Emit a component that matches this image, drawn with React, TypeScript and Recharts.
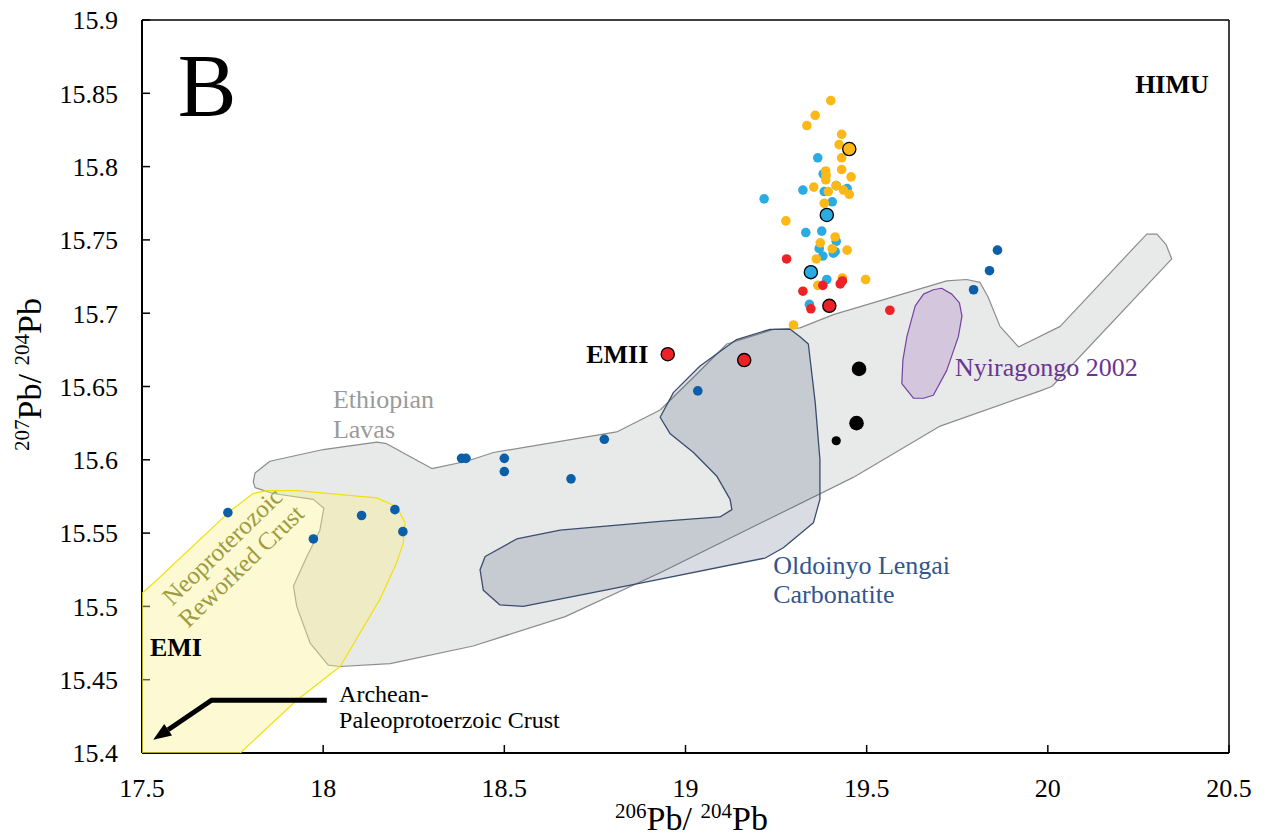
import { ReferenceLine, Scatter, ScatterChart, XAxis, YAxis } from 'recharts'

// ---- axes ----
const xTicks = [17.5, 18, 18.5, 19, 19.5, 20, 20.5]
const yTicks = [15.4, 15.45, 15.5, 15.55, 15.6, 15.65, 15.7, 15.75, 15.8, 15.85, 15.9]

type Pt = { x: number; y: number }
const pts = (rows: number[][]): Pt[] => rows.map(([x, y]) => ({ x, y }))

// ---- fields (outlines, 206Pb/204Pb vs 207Pb/204Pb) ----
const ethiopianLavas = pts([
  [17.807, 15.585], [17.812, 15.591], [17.853, 15.599], [18.0, 15.607], [18.148, 15.612],
  [18.175, 15.611], [18.3, 15.594], [18.396, 15.599], [18.47, 15.605], [18.81, 15.619],
  [18.93, 15.634], [19.021, 15.656], [19.114, 15.679], [19.243, 15.689], [19.316, 15.69],
  [19.408, 15.699], [19.721, 15.722], [19.776, 15.723], [19.813, 15.721], [19.835, 15.711],
  [19.868, 15.691], [19.919, 15.677], [20.034, 15.691], [20.273, 15.754], [20.301, 15.754],
  [20.326, 15.747], [20.342, 15.737], [20.011, 15.65], [19.979, 15.647], [19.703, 15.623],
  [19.463, 15.588], [18.93, 15.523], [18.668, 15.493], [18.414, 15.473], [18.185, 15.461],
  [18.047, 15.459], [18.014, 15.46], [17.964, 15.475], [17.927, 15.5], [17.918, 15.514],
  [17.955, 15.534], [17.991, 15.552], [18.002, 15.567], [17.973, 15.573], [17.862, 15.577],
  [17.812, 15.581],
])

const neoproterozoicCrust = pts([
  [17.5, 15.509], [17.541, 15.518], [17.743, 15.565], [17.807, 15.577], [17.844, 15.579],
  [17.927, 15.579], [18.148, 15.574], [18.203, 15.568], [18.226, 15.557], [18.221, 15.543],
  [18.203, 15.53], [18.157, 15.505], [18.047, 15.459], [17.927, 15.436], [17.771, 15.4],
  [17.5, 15.4],
])

const oldoinyoLengai = pts([
  [18.93, 15.629], [18.967, 15.646], [19.04, 15.664], [19.141, 15.682], [19.233, 15.689],
  [19.289, 15.689], [19.316, 15.684], [19.339, 15.679], [19.358, 15.639], [19.371, 15.6],
  [19.371, 15.573], [19.353, 15.557], [19.27, 15.54], [19.22, 15.533], [18.838, 15.514],
  [18.552, 15.5], [18.488, 15.501], [18.442, 15.511], [18.433, 15.525], [18.447, 15.534],
  [18.534, 15.546], [18.654, 15.552], [18.93, 15.558], [19.095, 15.561], [19.128, 15.566],
  [19.123, 15.573], [19.086, 15.589], [19.022, 15.605], [18.957, 15.618],
])

const nyiragongo2002 = pts([
  [19.707, 15.717], [19.735, 15.713], [19.756, 15.707], [19.763, 15.698], [19.753, 15.684],
  [19.721, 15.661], [19.684, 15.644], [19.657, 15.642], [19.629, 15.642], [19.597, 15.652],
  [19.6, 15.668], [19.611, 15.684], [19.634, 15.705], [19.657, 15.713], [19.684, 15.716],
])

const archeanArrow = pts([[18.01, 15.436], [17.692, 15.436], [17.531, 15.409]])

// ---- samples ----
const ethiopianSamples = pts([
  [17.737, 15.564], [17.973, 15.546], [18.106, 15.562], [18.198, 15.566], [18.22, 15.551],
  [18.382, 15.601], [18.394, 15.601], [18.5, 15.601], [18.5, 15.592], [18.684, 15.587],
  [18.776, 15.614], [19.034, 15.647], [19.795, 15.716], [19.839, 15.729], [19.861, 15.743],
])

const blueSamples = pts([
  [19.217, 15.778], [19.365, 15.806], [19.38, 15.795], [19.324, 15.784], [19.383, 15.783],
  [19.416, 15.787], [19.446, 15.785], [19.405, 15.776], [19.332, 15.755], [19.376, 15.756],
  [19.416, 15.749], [19.369, 15.744], [19.413, 15.742], [19.408, 15.741], [19.379, 15.739],
  [19.39, 15.723], [19.342, 15.706],
])
const blueMeans = pts([[19.39, 15.767], [19.346, 15.728]])

const goldSamples = pts([
  [19.401, 15.845], [19.358, 15.835], [19.335, 15.828], [19.431, 15.822], [19.424, 15.815],
  [19.431, 15.806], [19.387, 15.797], [19.431, 15.798], [19.388, 15.794], [19.457, 15.793],
  [19.387, 15.791], [19.354, 15.786], [19.416, 15.787], [19.394, 15.783], [19.436, 15.784],
  [19.452, 15.781], [19.383, 15.775], [19.277, 15.763], [19.413, 15.752], [19.372, 15.748],
  [19.405, 15.744], [19.446, 15.743], [19.361, 15.737], [19.433, 15.724], [19.365, 15.719],
  [19.497, 15.723], [19.298, 15.692],
])
const goldMeans = pts([[19.452, 15.812]])

const redSamples = pts([
  [19.279, 15.737], [19.324, 15.715], [19.379, 15.719], [19.427, 15.72], [19.433, 15.722],
  [19.346, 15.703], [19.564, 15.702],
])
const redMeans = pts([[18.951, 15.672], [19.162, 15.668], [19.397, 15.705]])

const blackLarge = pts([[19.479, 15.662], [19.472, 15.625]])
const blackSmall = pts([[19.416, 15.613]])

const SERIF = '"Liberation Serif", "Times New Roman", serif'

/* eslint-disable @typescript-eslint/no-explicit-any */
const noDot = () => <g />

const dot = (r: number, fill: string, stroke?: string) => (p: any) => (
  <circle cx={p.cx} cy={p.cy} r={r} fill={fill} stroke={stroke ?? 'none'} strokeWidth={stroke ? 1.3 : 0} />
)

const polygon = (fill: string, stroke: string, fillOpacity = 1, strokeWidth = 1.2) => (p: any) => {
  const d = p.points.map((q: any, i: number) => `${i ? 'L' : 'M'}${q.x},${q.y}`).join(' ') + ' Z'
  return <path d={d} fill={fill} fillOpacity={fillOpacity} stroke={stroke} strokeWidth={strokeWidth} strokeLinejoin="round" />
}

// Elbow arrow toward the Archean-Paleoproterozoic field, head at the last point.
const arrow = (p: any) => {
  const q = p.points
  const a = q[q.length - 2]
  const b = q[q.length - 1]
  const ang = Math.atan2(b.y - a.y, b.x - a.x)
  const len = 18
  const half = 7
  const bx = b.x - len * Math.cos(ang)
  const by = b.y - len * Math.sin(ang)
  const px = -Math.sin(ang) * half
  const py = Math.cos(ang) * half
  const d = q.slice(0, -1).map((r: any, i: number) => `${i ? 'L' : 'M'}${r.x},${r.y}`).join(' ') + ` L${bx},${by}`
  return (
    <g>
      <path d={d} fill="none" stroke="#000" strokeWidth={5} strokeLinejoin="miter" />
      <polygon points={`${b.x},${b.y} ${bx + px},${by + py} ${bx - px},${by - py}`} fill="#000" />
    </g>
  )
}

type LabelOpts = {
  lines: string[]
  size: number
  color: string
  weight?: string | number
  gap?: number
  anchor?: 'start' | 'middle' | 'end'
  rotate?: number
  dy?: string
}
const label = (o: LabelOpts) => (p: any) => (
  <text
    x={p.cx}
    y={p.cy}
    fontFamily={SERIF}
    fontSize={o.size}
    fontWeight={o.weight ?? 'normal'}
    fill={o.color}
    textAnchor={o.anchor ?? 'start'}
    transform={o.rotate ? `rotate(${o.rotate} ${p.cx} ${p.cy})` : undefined}
  >
    {o.lines.map((l, i) => (
      <tspan key={i} x={p.cx} dy={i ? o.gap ?? o.size * 1.15 : o.dy ?? 0}>
        {l}
      </tspan>
    ))}
  </text>
)

const XTick = (p: any) => (
  <text x={p.x} y={p.y} dy="0.71em" textAnchor="middle" fontFamily={SERIF} fontSize={26} fill="#000">
    {p.payload.value}
  </text>
)

const YTick = (p: any) => (
  <text x={p.x} y={p.y} dy="0.36em" textAnchor="end" fontFamily={SERIF} fontSize={26} fill="#000">
    {p.payload.value}
  </text>
)

const isotopeTitle = (top: string) => [
  <tspan key="a" fontSize={21} dy={-12}>{top}</tspan>,
  <tspan key="b" fontSize={34} dy={12}>Pb/ </tspan>,
  <tspan key="c" fontSize={21} dy={-12}>204</tspan>,
  <tspan key="d" fontSize={34} dy={12}>Pb</tspan>,
]

const XTitle = (props: any) => {
  const vb = props.viewBox
  const cx = vb.x + vb.width / 2 + 6
  const cy = vb.y + 77
  return (
    <text x={cx} y={cy} textAnchor="middle" fontFamily={SERIF} fill="#000">
      {isotopeTitle('206')}
    </text>
  )
}

const YTitle = (props: any) => {
  const vb = props.viewBox
  const cx = vb.x + 41
  const cy = vb.y + vb.height / 2 - 12
  return (
    <text x={cx} y={cy} textAnchor="middle" fontFamily={SERIF} fill="#000" transform={`rotate(-90 ${cx} ${cy})`}>
      {isotopeTitle('207')}
    </text>
  )
}

export default function App() {
  // The svg sits over the body margin so its pixels line up with the page.
  return (
    <div style={{ width: 1267, height: 837, margin: '-8px 0 0 -8px', fontFamily: SERIF }}>
      <ScatterChart width={1267} height={837} margin={{ top: 20, right: 38, bottom: 0, left: 0 }}>
        <XAxis
          type="number"
          dataKey="x"
          domain={[17.5, 20.5]}
          ticks={xTicks}
          allowDataOverflow
          height={84}
          tickSize={-8}
          tickMargin={34}
          tick={<XTick />}
          axisLine={{ stroke: '#000', strokeWidth: 2 }}
          tickLine={{ stroke: '#000', strokeWidth: 1.5 }}
          label={{ content: <XTitle /> }}
        />
        <YAxis
          type="number"
          dataKey="y"
          domain={[15.4, 15.9]}
          ticks={yTicks}
          allowDataOverflow
          width={142}
          tickSize={-8}
          tickMargin={32}
          tick={<YTick />}
          axisLine={{ stroke: '#000', strokeWidth: 2 }}
          tickLine={{ stroke: '#000', strokeWidth: 1.5 }}
          label={{ content: <YTitle /> }}
        />

        {/* fields */}
        <Scatter data={ethiopianLavas} shape={noDot} line={polygon('#e8e9e9', '#8c8c8c')} lineType="joint" isAnimationActive={false} />
        <Scatter data={neoproterozoicCrust} shape={noDot} line={polygon('#faf08e', '#f0e010', 0.4)} lineType="joint" isAnimationActive={false} />
        <Scatter data={oldoinyoLengai} shape={noDot} line={polygon('#2b3f63', '#3a4d6d', 0.18, 1.3)} lineType="joint" isAnimationActive={false} />
        <Scatter data={nyiragongo2002} shape={noDot} line={polygon('#d4c7dd', '#7442a2')} lineType="joint" isAnimationActive={false} />
        <Scatter data={archeanArrow} shape={noDot} line={arrow} lineType="joint" isAnimationActive={false} />

        {/* samples */}
        <Scatter data={ethiopianSamples} shape={dot(4.8, '#0a5fa8')} isAnimationActive={false} />
        <Scatter data={blueSamples} shape={dot(4.8, '#2aabe2')} isAnimationActive={false} />
        <Scatter data={goldSamples} shape={dot(4.8, '#fbb817')} isAnimationActive={false} />
        <Scatter data={redSamples} shape={dot(4.8, '#ec2227')} isAnimationActive={false} />
        <Scatter data={blackSmall} shape={dot(4.6, '#000')} isAnimationActive={false} />
        <Scatter data={blackLarge} shape={dot(7.3, '#000')} isAnimationActive={false} />
        <Scatter data={blueMeans} shape={dot(6.6, '#2aabe2', '#000')} isAnimationActive={false} />
        <Scatter data={goldMeans} shape={dot(6.6, '#fbb817', '#000')} isAnimationActive={false} />
        <Scatter data={redMeans} shape={dot(6.6, '#ec2227', '#000')} isAnimationActive={false} />

        {/* labels */}
        <Scatter data={[{ x: 17.599, y: 15.835 }]} shape={label({ lines: ['B'], size: 88, color: '#000' })} isAnimationActive={false} />
        <Scatter data={[{ x: 20.241, y: 15.85 }]} shape={label({ lines: ['HIMU'], size: 26, color: '#000', weight: 'bold' })} isAnimationActive={false} />
        <Scatter data={[{ x: 18.726, y: 15.666 }]} shape={label({ lines: ['EMII'], size: 26, color: '#000', weight: 'bold' })} isAnimationActive={false} />
        <Scatter data={[{ x: 17.522, y: 15.466 }]} shape={label({ lines: ['EMI'], size: 26, color: '#000', weight: 'bold' })} isAnimationActive={false} />
        <Scatter data={[{ x: 18.027, y: 15.635 }]} shape={label({ lines: ['Ethiopian', 'Lavas'], size: 26, color: '#9a9a9a', gap: 30 })} isAnimationActive={false} />
        <Scatter
          data={[{ x: 17.721, y: 15.541 }]}
          shape={label({ lines: ['Neoproterozoic', 'Reworked Crust'], size: 25, color: '#9d9c3d', gap: 27, anchor: 'middle', rotate: -44, dy: '0.35em' })}
          isAnimationActive={false}
        />
        <Scatter data={[{ x: 19.242, y: 15.522 }]} shape={label({ lines: ['Oldoinyo Lengai', 'Carbonatite'], size: 26, color: '#33558e', gap: 29 })} isAnimationActive={false} />
        <Scatter data={[{ x: 19.744, y: 15.657 }]} shape={label({ lines: ['Nyiragongo 2002'], size: 26, color: '#6a3593' })} isAnimationActive={false} />
        <Scatter data={[{ x: 18.044, y: 15.435 }]} shape={label({ lines: ['Archean-', 'Paleoprotoerzoic Crust'], size: 24, color: '#000', gap: 26 })} isAnimationActive={false} />

        {/* frame */}
        <ReferenceLine y={15.9} stroke="#000" strokeWidth={1.5} />
        <ReferenceLine x={20.5} stroke="#000" strokeWidth={1.5} />
      </ScatterChart>
    </div>
  )
}
